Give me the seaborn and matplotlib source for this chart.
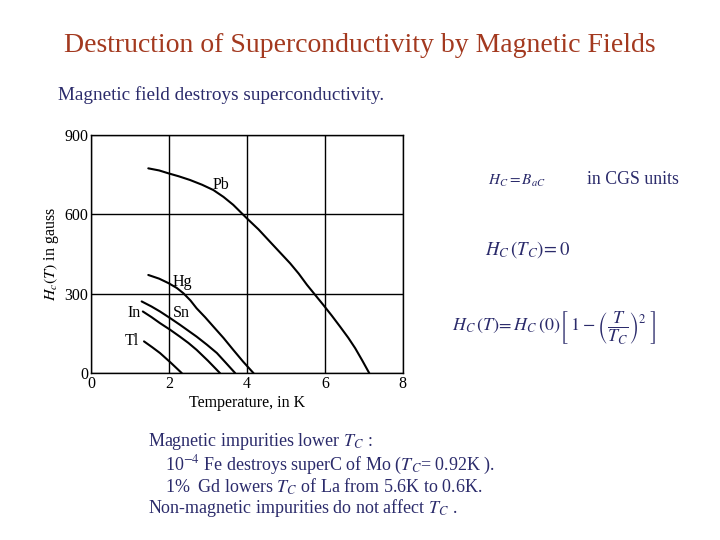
import matplotlib
matplotlib.use("Agg")
import matplotlib.pyplot as plt
import seaborn as sns
import pandas as pd

# critical field curves (T in K, Hc in gauss)
pb_t = [1.47, 1.75, 1.99, 2.25, 2.54, 2.85, 3.14, 3.4, 3.65, 4.0, 4.3, 4.59,
        4.85, 5.11, 5.33, 5.54, 5.75, 5.96, 6.18, 6.39, 6.6, 6.78, 6.96, 7.14]
pb_h = [774, 766, 755, 744, 730, 712, 692, 666, 636, 585, 543, 497,
        456, 415, 376, 334, 296, 258, 217, 176, 134, 94, 48, 0]
hg_t = [1.47, 1.75, 1.99, 2.2, 2.37, 2.55, 2.71, 2.93, 3.14, 3.4, 3.65, 3.9, 4.17]
hg_h = [371, 357, 340, 322, 302, 275, 245, 211, 176, 133, 88, 44, 0]
sn_t = [1.30, 1.55, 1.77, 2.03, 2.28, 2.5, 2.71, 2.97, 3.23, 3.46, 3.70]
sn_h = [271, 252, 233, 208, 183, 160, 138, 108, 76, 39, 0]
in_t = [1.33, 1.55, 1.77, 2.03, 2.28, 2.5, 2.71, 3.0, 3.31]
in_h = [233, 212, 189, 164, 138, 114, 88, 47, 0]
tl_t = [1.36, 1.57, 1.77, 2.05, 2.33]
tl_h = [120, 98, 76, 39, 0]

elements = ["Pb", "Hg", "Sn", "In", "Tl"]
label_pos = {"Pb": (3.12, 711), "Hg": (2.1, 344), "Sn": (2.1, 227),
             "In": (1.28, 227), "Tl": (1.24, 121)}

x_ticks = [0, 2, 4, 6, 8]
y_ticks = [0, 300, 600, 900]

rows = []
for name, ts, hs in zip(elements, [pb_t, hg_t, sn_t, in_t, tl_t],
                        [pb_h, hg_h, sn_h, in_h, tl_h]):
    for t, h in zip(ts, hs):
        rows.append({"element": name, "T": t, "Hc": h})
df = pd.DataFrame(rows)

sns.set_style("white")
plt.rcParams["font.family"] = ["Liberation Serif", "DejaVu Serif"]
plt.rcParams["mathtext.fontset"] = "stix"

navy = "#2B2B6B"
rust = "#A3391F"

fig = plt.figure(figsize=(7.2, 5.4), dpi=100)
ax = fig.add_axes([0.1264, 0.309, 0.433, 0.441])

sns.lineplot(data=df, x="T", y="Hc", units="element", estimator=None,
             sort=False, color="black", linewidth=1.5, ax=ax)

for name in elements:
    x, y = label_pos[name]
    ha = "right" if name in ("In", "Tl") else "left"
    ax.text(x, y, name, fontsize=11.5, ha=ha, va="center", color="black")

ax.set_xlim(0, 8)
ax.set_ylim(0, 900)
ax.set_xticks(x_ticks)
ax.set_yticks(y_ticks)
ax.grid(True, color="black", linewidth=1.0)
for s in ax.spines.values():
    s.set_color("black")
    s.set_linewidth(1.0)
ax.tick_params(labelsize=11.5, colors="black", length=0, pad=2)
ax.set_xlabel("Temperature, in K", fontsize=11.5, color="black", labelpad=2)
ax.set_ylabel("$H_c(T)$ in gauss", fontsize=11.5, color="black", labelpad=2)

fig.text(0.5, 1 - 45 / 540, "Destruction of Superconductivity by Magnetic Fields",
         ha="center", va="center", fontsize=20, color=rust)
fig.text(58 / 720, 1 - 95 / 540, "Magnetic field destroys superconductivity.",
         ha="left", va="center", fontsize=13.8, color=navy)

# equations on the right
fig.text(488 / 720, 1 - 181 / 540, r"$H_C = B_{aC}$", ha="left", va="center",
         fontsize=11, color=navy)
fig.text(587 / 720, 1 - 179 / 540, "in CGS units", ha="left", va="center",
         fontsize=12.8, color=navy)
fig.text(485 / 720, 1 - 250 / 540, r"$H_C\,\left(T_C\right)\!=0$", ha="left",
         va="center", fontsize=13.5, color=navy)
fig.text(452 / 720, 1 - 328 / 540,
         r"$H_C\,(T)\!=H_C\,(0)\left[\;1-\left(\dfrac{T}{T_C}\right)^{2}\;\right]$",
         ha="left", va="center", fontsize=13, color=navy)

lines = [
    (148, 442, r"Magnetic impurities lower $T_C$ :"),
    (165, 465, r"10$^{-4}$ Fe destroys superC of Mo ($T_C$= 0.92K )."),
    (165, 487, r"1%  Gd lowers $T_C$ of La from 5.6K to 0.6K."),
    (148, 508, r"Non-magnetic impurities do not affect $T_C$ ."),
]
for x, y, s in lines:
    fig.text(x / 720, 1 - y / 540, s, ha="left", va="center", fontsize=13,
             color=navy)

fig.savefig("out.png", dpi=100)
